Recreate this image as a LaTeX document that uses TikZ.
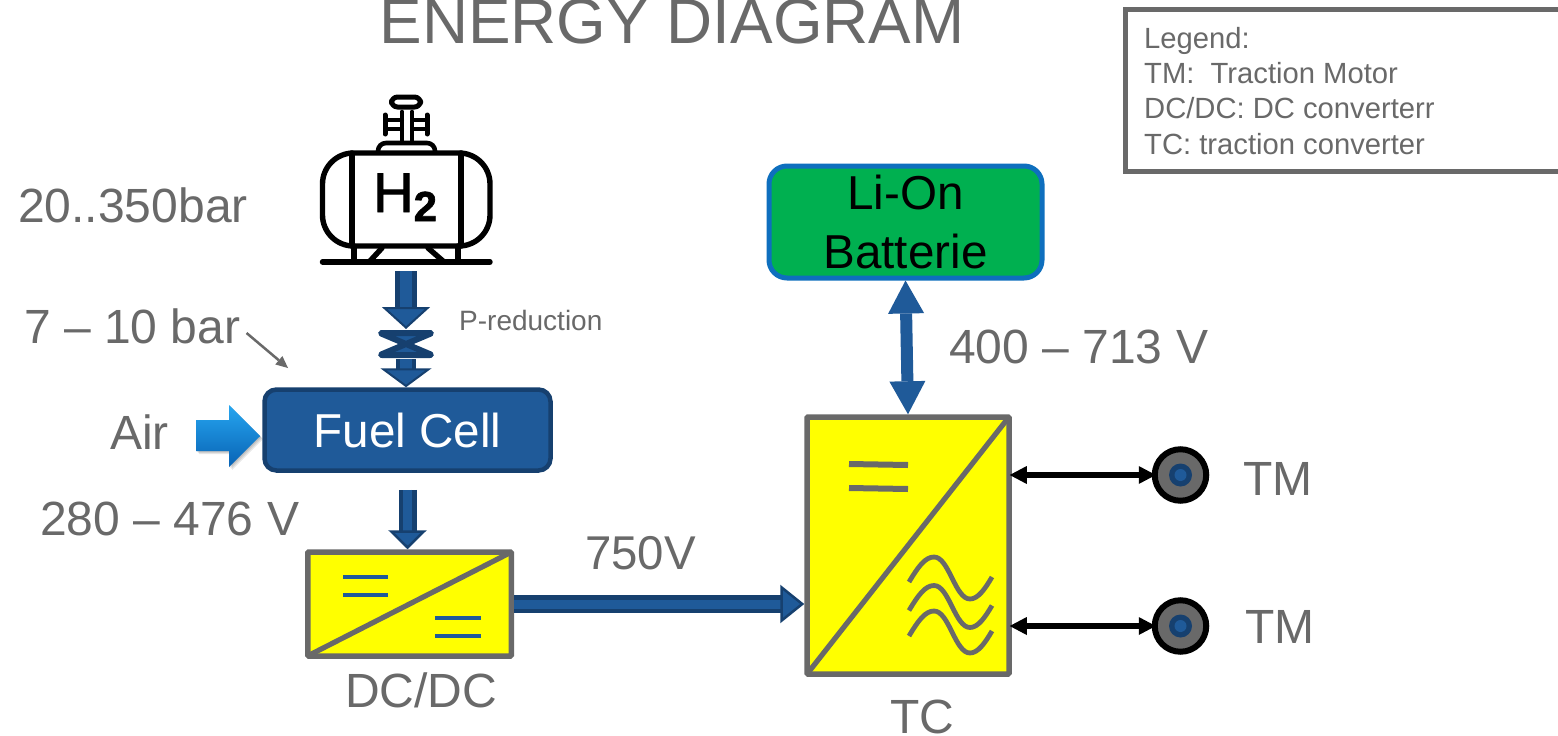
\documentclass[tikz,border=0pt]{standalone}
\usepackage{fontspec}
\setmainfont{Liberation Sans}
\newfontfamily\hfont[FakeBold=1.6]{Liberation Sans}
\usetikzlibrary{arrows.meta,calc}
\definecolor{gr}{HTML}{696969}
\definecolor{mid}{HTML}{1F5A99}
\definecolor{dark}{HTML}{16406F}
\definecolor{battgreen}{HTML}{00B050}
\definecolor{battblue}{HTML}{0E6FBE}
\definecolor{airtop}{HTML}{26A6F0}
\definecolor{airbot}{HTML}{0862B4}
\definecolor{convfill}{RGB}{255,255,0}
\newcommand{\fs}[1]{\fontsize{#1}{#1}\selectfont}
\tikzset{
  lab/.style={anchor=base west,inner sep=0pt,text=gr,font=\fs{48}},
  legendtext/.style={anchor=base west,inner sep=0pt,text=gr,font=\fs{29.2}},
  conv/.style={draw=gr,line width=5.5pt,fill=convfill,minimum width=#1,inner sep=0pt,rounded corners=1pt},
  diag/.style={draw=gr,line width=5.2pt},
  eqblue/.style={draw=mid,line width=3.8pt},
  eqgray/.style={draw=gr,line width=6pt},
  blockarrow/.style 2 args={draw=dark,double=mid,line width=#1,double distance=#2},
  hidden/.style={inner sep=0pt,outer sep=0pt},
  icon/.style={draw=black,line width=5.4pt,line cap=round,line join=round},
  motorbody/.style={circle,draw=black,line width=6pt,fill=gr,minimum size=51.5pt,inner sep=0pt,outer sep=0pt},
  wave/.style={draw=gr,line width=4.8pt},
  dbl/.style={draw=black,line width=6pt,shorten <=-1pt,shorten >=-2pt,{Triangle[length=17pt,width=18pt,line width=0pt]}-{Triangle[length=17pt,width=18pt,line width=0pt]}},
}
\begin{document}
\begin{tikzpicture}[x=1pt,y=-1pt]
\useasboundingbox (0,0) rectangle (1558,736);
\clip (0,0) rectangle (1558,736);
\fill[white] (0,0) rectangle (1558,736);

% title and legend
\node[lab,font=\fs{63.8}] (title) at (379.5,43) {ENERGY DIAGRAM};
\draw[draw=gr,line width=5pt,fill=white] (1570,9.5) -- (1125,9.5) -- (1125,171) -- (1570,171);
\node[legendtext] (lg1) at (1144,48) {Legend:};
\node[legendtext] (lg2) at (1144,83) {TM:\ \ Traction Motor};
\node[legendtext] (lg3) at (1144,118.5) {DC/DC: DC converterr};
\node[legendtext] (lg4) at (1144,154) {TC: traction converter};

% tank icon
\node[hidden,minimum width=170pt,minimum height=179pt] (tank) at (406,181.5) {};
\draw[icon,rounded corners=31pt] (322.5,153) rectangle (490,246);
\draw[icon] (352,153) -- (352,246) (461,153) -- (461,246);
\draw[icon] (322.5,262) -- (490,262);
\draw[icon] (354,246) -- (354,262) (458,246) -- (458,262);
\draw[icon] (382,248) -- (370,261) (428,248) -- (443,261);
\draw[icon,line width=4.6pt,rounded corners=8pt] (378,152) -- (378,143) -- (435,143) -- (435,152);
\draw[icon,line width=4.6pt] (402,112) -- (402,141) (412,112) -- (412,141);
\draw[icon,line width=5pt,fill=white,rounded corners=6pt] (391.5,97) rectangle (420.5,107);
\draw[icon,line width=5pt] (385,115) -- (385,134) (427,115) -- (427,134);
\draw[icon,line width=4pt] (385,120) -- (402,120) (385,129) -- (402,129) (412,120) -- (427,120) (412,129) -- (427,129);
\node[anchor=base west,inner sep=0pt,text=black,font=\hfont\fs{56}] (h2) at (373,212) {H\raisebox{-9pt}{\fs{42}\textbf{2}}};

% valve
\node[hidden,minimum width=56pt,minimum height=30pt] (valve) at (406,344) {};
\draw[draw=dark,fill=mid,line width=6pt,line join=round,rounded corners=2pt] (380,333) -- (432,333) -- (380,355) -- (432,355) -- cycle;

% fuel cell and converters
\node[draw=dark,line width=4.5pt,fill=mid,rounded corners=12pt,minimum width=286pt,minimum height=81pt,inner sep=0pt,text=white,font=\fs{47.6}] (fc) at (407.5,430) {\raisebox{-2pt}{Fuel Cell}};
\node[conv=203.5pt,minimum height=104pt] (dcdc) at (409.5,604) {};
\draw[diag] (dcdc.south west) ++(3,-3) -- ($(dcdc.north east)+(-3,3)$);
\draw[eqblue] (343,577) -- (388,577) (343,595) -- (388,595);
\draw[eqblue] (435,618) -- (481,618) (435,636) -- (481,636);

\node[conv=202pt,minimum height=257pt] (tc) at (908,545.5) {};
\draw[diag] (tc.south west) ++(3,-3) -- ($(tc.north east)+(-3,3)$);
\draw[eqgray] (849,464) -- (908,465) (849,488) -- (908,489);
\foreach \dy in {0,28.5,54}{
  \draw[wave,yshift=-\dy pt] (909,582) .. controls (918,567) and (925,557) .. (934,557) .. controls (949,557) and (955,599) .. (970,599) .. controls (978,599) and (985,589) .. (992,577);
}

% battery
\node[draw=battblue,line width=5pt,fill=battgreen,rounded corners=18pt,minimum width=273pt,minimum height=112pt,inner sep=0pt,align=center,text=black,font=\fs{47.6}] (batt) at (905.5,222) {\raisebox{-2pt}{Li-On}\\[12pt]\raisebox{-2pt}{Batterie}};

% motors
\node[motorbody] (m1) at (1180.5,475) {};
\node[motorbody] (m2) at (1180.5,626) {};
\fill[dark] (m1.center) circle (11.5pt) (m2.center) circle (11.5pt);
\fill[mid] (m1.center) circle (6pt) (m2.center) circle (6pt);

% block arrows
\draw[blockarrow={5pt}{12pt},-{Triangle[length=22pt,width=48pt,line width=2pt,fill=mid]}] (tank.south) -- (valve.north);
\draw[blockarrow={4pt}{12pt},-{Triangle[length=19pt,width=51pt,line width=2pt,fill=mid]}] (valve.south) -- (valve.south |- fc.north);
\draw[blockarrow={4.5pt}{9pt},shorten <=17pt,-{Triangle[length=19pt,width=38pt,line width=2.5pt,fill=mid]}] (fc.south) -- (fc.south |- dcdc.north);
\draw[blockarrow={4.5pt}{9pt},-{Triangle[length=24pt,width=38pt,line width=2.5pt,fill=mid]}] (dcdc.east) -- (dcdc.east -| tc.west);
\draw[draw=mid,line width=12pt,{Triangle[length=33pt,width=36pt,line width=0pt]}-{Triangle[length=33pt,width=36pt,line width=0pt]}] (batt.south) -- (tc.north);

% double arrows to motors
\draw[dbl] (m1.west) -- (m1.west -| tc.east);
\draw[dbl] (m2.west) -- (m2.west -| tc.east);

% air arrow
\coordinate (airtip) at ($(fc.west)+(-2,6)$);
\foreach \o in {1,2,3}{
  \path[fill=black,opacity=.09] ($(196+\o,420+\o)$) -- ($(229+\o,420+\o)$) -- ($(229+\o,405+\o)$) -- ($(260+\o,436+\o)$) -- ($(229+\o,467+\o)$) -- ($(229+\o,451+\o)$) -- ($(196+\o,451+\o)$) -- cycle;
}
\shade[top color=airtop,bottom color=airbot] (196,420) -- (229,420) -- (229,405) -- (airtip) -- (229,467) -- (229,451) -- (196,451) -- cycle;

% labels
\node[lab] (p20) at (18,222) {20..350bar};
\node[lab] (p7) at (24,343) {7 – 10 bar};
\node[lab] (air) at (110,449) {Air};
\node[lab] (v280) at (40,535) {280 – 476 V};
\node[lab,font=\fs{47.4}] (v750) at (585,569) {750V};
\node[lab] (ldc) at (345,707) {DC/DC};
\node[lab] (ltc) at (890,733) {TC};
\node[lab] (v400) at (949,363) {400 – 713 V};
\node[lab] (tm1) at (1243,495) {TM};
\node[lab] (tm2) at (1245,643) {TM};
\node[lab,font=\fs{28}] (pred) at (459,330) {P-reduction};
\coordinate (ptr) at (288,368);
\draw[draw=gr,line width=2.5pt,-{Triangle[length=12pt,width=11pt,line width=0pt]}] (p7.base east) ++(6,-10) -- (ptr);
\end{tikzpicture}
\end{document}
